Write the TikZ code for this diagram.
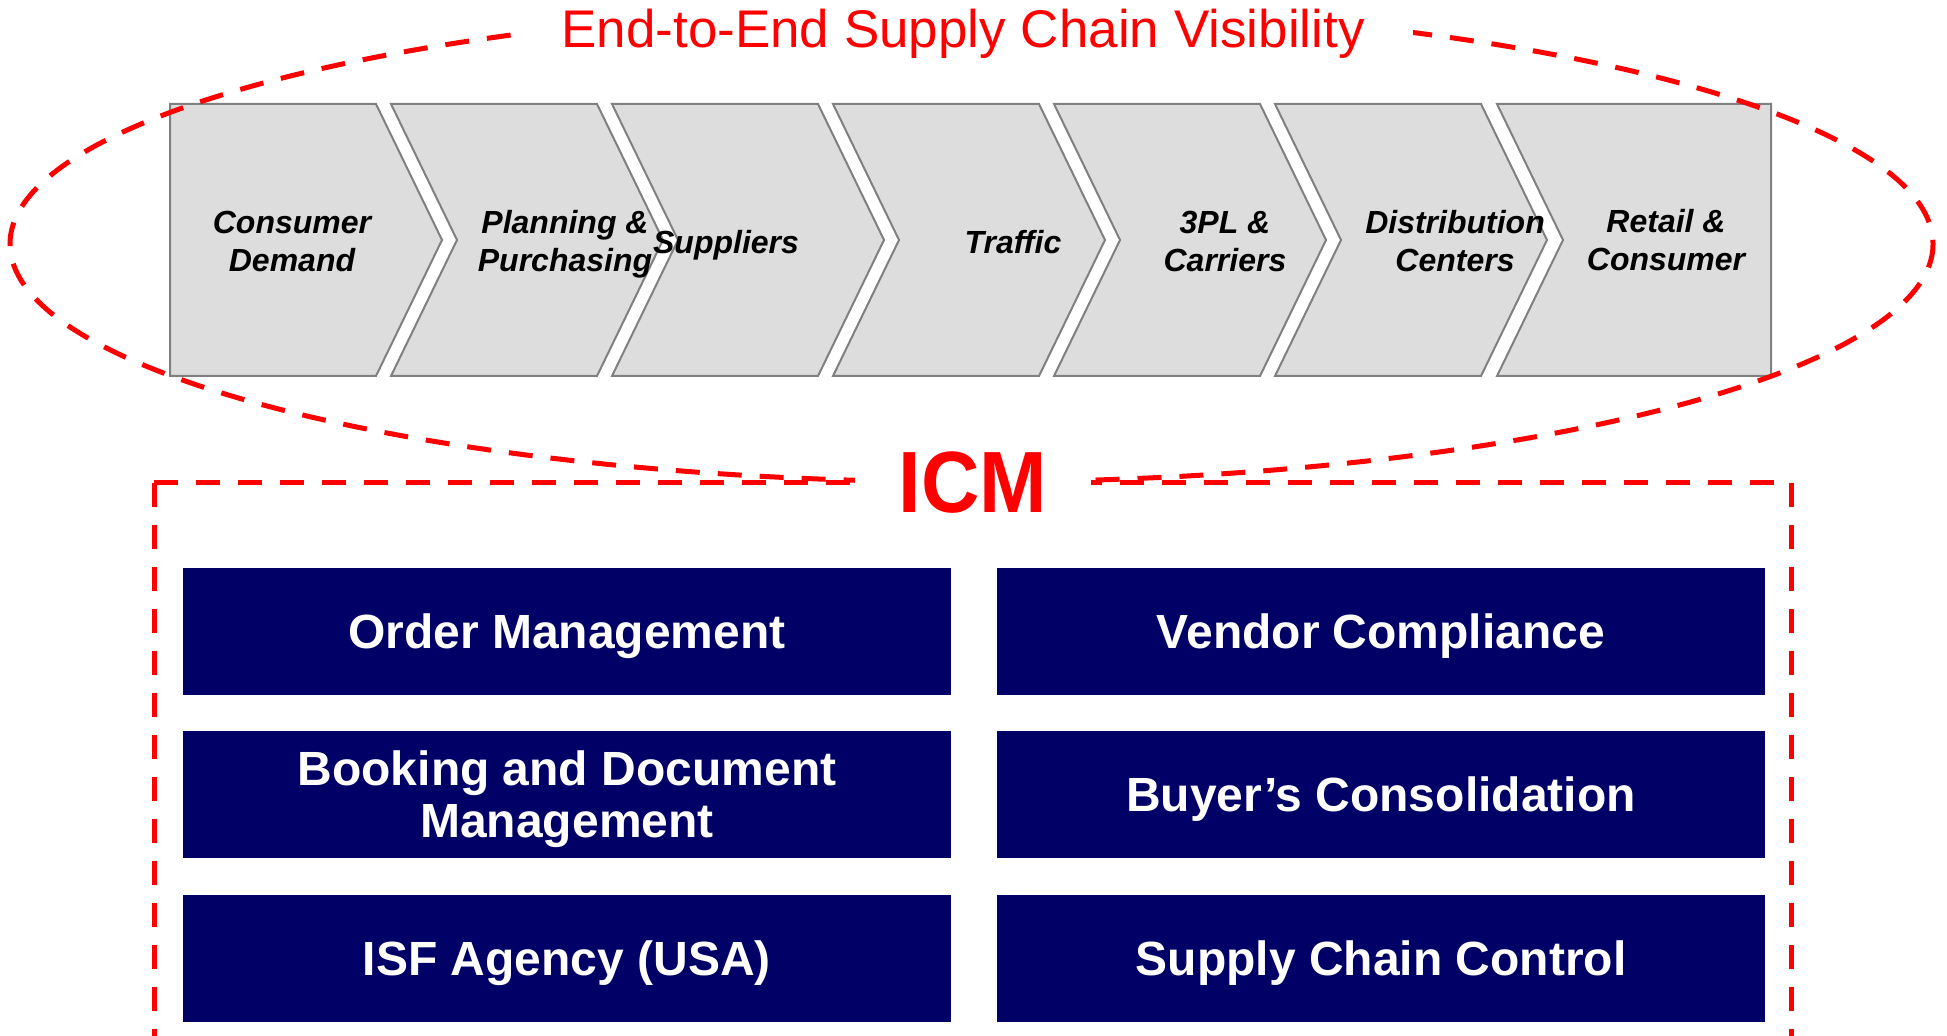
\documentclass[tikz,border=0pt]{standalone}
\usepackage{fontspec}
\setmainfont{Liberation Sans}
\usepackage{graphicx}
\definecolor{icmred}{RGB}{255,0,0}
\definecolor{navybox}{RGB}{0,0,102}
\definecolor{chevfill}{RGB}{221,221,221}
\definecolor{chevdraw}{RGB}{128,128,128}
\begin{document}
\begin{tikzpicture}[x=0.5pt,y=-0.5pt,
  chev/.style={fill=chevfill,draw=chevdraw,line width=1pt,line join=miter},
  chevlabel/.style={font=\fontsize{16}{19}\selectfont\bfseries\itshape,align=center,inner sep=0pt,text depth=0pt},
  redline/.style={draw=icmred,line width=2.5pt,dash pattern=on 12pt off 9pt},
  svcbox/.style={fill=navybox,text=white,minimum width=384pt,minimum height=63.5pt,inner sep=0pt,align=center,text depth=0pt,font=\fontsize{24}{26}\selectfont\bfseries},
]
\useasboundingbox (0,0) rectangle (1947,1036);
% chevrons
\draw[chev] (170,104) -- (376,104) -- (442,240) -- (376,376) -- (170,376) -- cycle;
\foreach \L in {391,612,833,1054,1275}{
  \draw[chev] (\L,104) -- ({\L+206},104) -- ({\L+272},240) -- ({\L+206},376) -- (\L,376) -- ({\L+66},240) -- cycle;
}
\draw[chev] (1497,104) -- (1771,104) -- (1771,376) -- (1497,376) -- (1563,240) -- cycle;
% chevron labels
\node[chevlabel] (c1) at (292,241) {Consumer\\Demand};
\node[chevlabel] (c2) at (565,241) {Planning \&\\Purchasing};
\node[chevlabel] (c3) at (726,242) {Suppliers};
\node[chevlabel] (c4) at (1013,242) {Traffic};
\node[chevlabel] (c5) at (1225,241) {3PL \&\\Carriers};
\node[chevlabel] (c6) at (1455,241) {Distribution\\Centers};
\node[chevlabel] (c7) at (1666,240) {Retail \&\\Consumer};
% visibility ellipse
\draw[redline] (971.5,244) ellipse [x radius=961.5, y radius=238];
% ICM dashed frame
\draw[redline] (154,483) -- (154,1040);
\draw[redline] (154,483) -- (1791,483);
\draw[redline] (1791,483) -- (1791,1040);
% title and ICM label
\node[anchor=base,fill=white,inner xsep=24pt,inner ysep=8pt,text=icmred,font=\fontsize{26.5}{30}\selectfont] (title) at (963,48) {End-to-End Supply Chain Visibility};
\node[anchor=base,fill=white,inner xsep=22pt,inner ysep=2pt,text=icmred,font=\fontsize{43.5}{50}\selectfont\bfseries] (icm) at (973,513) {\scalebox{0.93}[1]{ICM}};
% service boxes
\node[svcbox] (om) at (567,631.5) {Order Management};
\node[svcbox] (vc) at (1381,631.5) {Vendor Compliance};
\node[svcbox] (bd) at (567,794) {Booking and Document\\Management};
\node[svcbox] (bc) at (1381,794) {Buyer’s Consolidation};
\node[svcbox] (isf) at (567,958.5) {ISF Agency (USA)};
\node[svcbox] (scc) at (1381,958.5) {Supply Chain Control};
\end{tikzpicture}
\end{document}
